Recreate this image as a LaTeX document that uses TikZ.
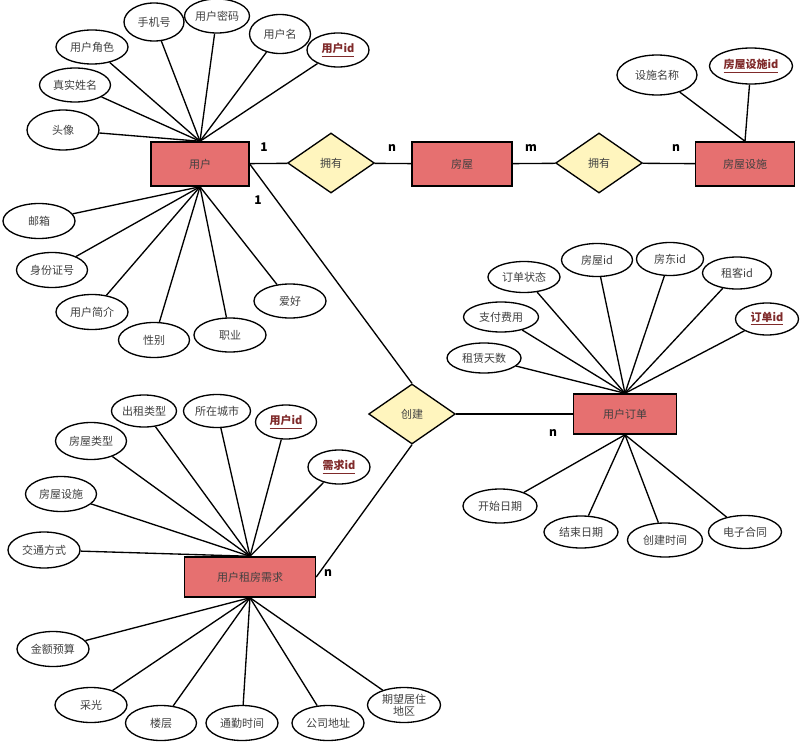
\documentclass[tikz,border=0pt]{standalone}
\usepackage{fontspec}
\setmainfont{Noto Sans CJK SC}
\usepackage{xcolor}
\usepackage{tikz}
\usetikzlibrary{shapes.geometric}

\definecolor{entred}{HTML}{E67070}
\definecolor{relyellow}{HTML}{FFF5BE}
\definecolor{keyred}{HTML}{7F2A2A}
\definecolor{txtgray}{HTML}{404040}

\tikzset{
    entity/.style={draw, line width=1.1pt, fill=entred, text=txtgray, minimum height=33pt, inner sep=0pt, font=\fontsize{8.25pt}{10pt}\selectfont},
    rel/.style={diamond, draw, line width=1pt, fill=relyellow, text=txtgray, minimum width=65pt, minimum height=45pt, inner sep=0pt, font=\fontsize{8.25pt}{10pt}\selectfont},
    attr/.style={ellipse, draw, line width=1pt, fill=white, text=txtgray, minimum width=54pt, minimum height=25.5pt, inner sep=0pt, align=center, font=\fontsize{8.25pt}{9.5pt}\selectfont},
    keyattr/.style={attr, text=keyred, font=\fontsize{8.25pt}{10pt}\selectfont\bfseries},
    card/.style={font=\fontsize{9pt}{10pt}\selectfont\bfseries, text=black, inner sep=0pt},
    link/.style={line width=1pt}
}

\begin{document}
\begin{tikzpicture}[x=0.75pt,y=0.75pt,yscale=-1,xscale=1]
        \useasboundingbox (0,0) rectangle (800,742);

        % entities and relations
        \node [entity, minimum width=73.5pt] (user) at (200,164) {用户};
        \node [entity, minimum width=75pt] (house) at (462,164) {房屋};
        \node [entity, minimum width=74.25pt] (facility) at (745,164) {房屋设施};
        \node [entity, minimum width=77.25pt, minimum height=30pt] (order) at (625,414) {用户订单};
        \node [entity, minimum width=98.25pt, minimum height=30pt] (demand) at (250,577) {用户租房需求};
        \node [rel] (ownA) at (331,163) {拥有};
        \node [rel] (ownB) at (599,163) {拥有};
        \node [rel] (create) at (412,414) {创建};

        % user attributes
        \node [attr] (userRole) at (92,47) {用户角色};
        \node [attr, minimum width=45pt, minimum height=28.5pt] (userPhone) at (154,22) {手机号};
        \node [attr, minimum width=48.75pt] (userPwd) at (217,16) {用户密码};
        \node [attr, minimum width=45.75pt, minimum height=29.25pt] (userName) at (280,34) {用户名};
        \node [keyattr, minimum width=46.5pt] (userId) at (338,50) {\underline{用户id}};
        \node [attr, minimum width=53.25pt] (userReal) at (75,85) {真实姓名};
        \node [attr, minimum height=30pt] (userAvatar) at (63,130) {头像};
        \node [attr, minimum height=26.25pt] (userMail) at (39,221) {邮箱};
        \node [attr, minimum width=53.25pt, minimum height=26.25pt] (userCard) at (52,270) {身份证号};
        \node [attr, minimum height=26.25pt] (userIntro) at (92,312) {用户简介};
        \node [attr, minimum width=53.25pt, minimum height=26.25pt] (userSex) at (154,340) {性别};
        \node [attr] (userJob) at (230,335) {职业};
        \node [attr] (userHobby) at (290,301) {爱好};

        % facility attributes
        \node [attr, minimum width=60pt, minimum height=30pt] (facName) at (657,75) {设施名称};
        \node [keyattr, minimum width=62.25pt, minimum height=27pt] (facId) at (751,66) {\underline{房屋设施id}};

        % order attributes
        \node [attr, minimum height=23.25pt] (orderState) at (524,277) {订单状态};
        \node [attr, minimum width=53.25pt, minimum height=24.75pt] (orderHouse) at (597,260) {房屋id};
        \node [attr, minimum width=50.25pt, minimum height=24.75pt] (orderLandlord) at (670,259) {房东id};
        \node [attr, minimum width=51.75pt, minimum height=24pt] (orderTenant) at (737,273) {租客id};
        \node [keyattr, minimum width=47.25pt, minimum height=24pt] (orderId) at (767,319) {\underline{订单id}};
        \node [attr, minimum width=56.25pt, minimum height=22.5pt] (orderPay) at (501,317) {支付费用};
        \node [attr, minimum width=55.5pt, minimum height=22.5pt] (orderDays) at (484,358) {租赁天数};
        \node [attr, minimum width=55.5pt] (orderStart) at (500,506) {开始日期};
        \node [attr, minimum width=55.5pt, minimum height=24pt] (orderEnd) at (581,532) {结束日期};
        \node [attr, minimum width=56.25pt] (orderCreate) at (665,540) {创建时间};
        \node [attr, minimum width=54.75pt, minimum height=24.75pt] (orderContract) at (745,532) {电子合同};

        % demand attributes
        \node [attr, minimum width=48.75pt, minimum height=24pt] (demRent) at (144,411) {出租类型};
        \node [attr, minimum width=50.25pt, minimum height=24.75pt] (demCity) at (217,411) {所在城市};
        \node [keyattr, minimum width=45.75pt] (demUser) at (286,422) {\underline{用户id}};
        \node [keyattr, minimum width=46.5pt] (demId) at (339,467) {\underline{需求id}};
        \node [attr, minimum width=53.25pt, minimum height=27.75pt] (demType) at (91,441) {房屋类型};
        \node [attr, minimum width=53.25pt, minimum height=26.25pt] (demFac) at (61,494) {房屋设施};
        \node [attr, minimum height=27pt] (demTraffic) at (44,550) {交通方式};
        \node [attr, minimum height=26.25pt] (demBudget) at (53,649) {金额预算};
        \node [attr, minimum height=26.25pt] (demLight) at (91,705) {采光};
        \node [attr, minimum width=53.25pt, minimum height=26.25pt] (demFloor) at (161,723) {楼层};
        \node [attr, minimum height=26.25pt] (demCommute) at (242,723) {通勤时间};
        \node [attr, minimum height=26.25pt] (demCompany) at (328,723) {公司地址};
        \node [attr, minimum width=54.75pt, minimum height=26.25pt] (demArea) at (404,705) {期望居住\\地区};

        % links
        \draw [link] (user) -- (ownA) -- (house) -- (ownB) -- (facility);
        \draw [link] (user.east) -- (create.north);
        \draw [link] (create) -- (order);
        \draw [link] (create.south) -- (demand.east);

        \draw [link] (userRole) -- (user.north);
        \draw [link] (userPhone) -- (user.north);
        \draw [link] (userPwd) -- (user.north);
        \draw [link] (userName) -- (user.north);
        \draw [link] (userId) -- (user.north);
        \draw [link] (userReal) -- (user.north);
        \draw [link] (userAvatar) -- (user.north);
        \draw [link] (userMail) -- (user.south);
        \draw [link] (userCard) -- (user.south);
        \draw [link] (userIntro) -- (user.south);
        \draw [link] (userSex) -- (user.south);
        \draw [link] (userJob) -- (user.south);
        \draw [link] (userHobby) -- (user.south);

        \draw [link] (facName) -- (facility.north);
        \draw [link] (facId) -- (facility.north);

        \draw [link] (orderState) -- (order.north);
        \draw [link] (orderHouse) -- (order.north);
        \draw [link] (orderLandlord) -- (order.north);
        \draw [link] (orderTenant) -- (order.north);
        \draw [link] (orderId) -- (order.north);
        \draw [link] (orderPay) -- (order.north);
        \draw [link] (orderDays) -- (order.north);
        \draw [link] (orderStart) -- (order.south);
        \draw [link] (orderEnd) -- (order.south);
        \draw [link] (orderCreate) -- (order.south);
        \draw [link] (orderContract) -- (order.south);

        \draw [link] (demRent) -- (demand.north);
        \draw [link] (demCity) -- (demand.north);
        \draw [link] (demUser) -- (demand.north);
        \draw [link] (demId) -- (demand.north);
        \draw [link] (demType) -- (demand.north);
        \draw [link] (demFac) -- (demand.north);
        \draw [link] (demTraffic) -- (demand.north);
        \draw [link] (demBudget) -- (demand.south);
        \draw [link] (demLight) -- (demand.south);
        \draw [link] (demFloor) -- (demand.south);
        \draw [link] (demCommute) -- (demand.south);
        \draw [link] (demCompany) -- (demand.south);
        \draw [link] (demArea) -- (demand.south);

        % cardinalities
        \node [card] (cardUserOwn) at (264,147) {1};
        \node [card] (cardUserCreate) at (258,200) {1};
        \node [card] (cardHouseOwn) at (392,148) {n};
        \node [card] (cardHouseFac) at (531,148) {m};
        \node [card] (cardFac) at (676,148) {n};
        \node [card] (cardOrder) at (553,433) {n};
        \node [card] (cardDemand) at (328,573) {n};
    \end{tikzpicture}
\end{document}
